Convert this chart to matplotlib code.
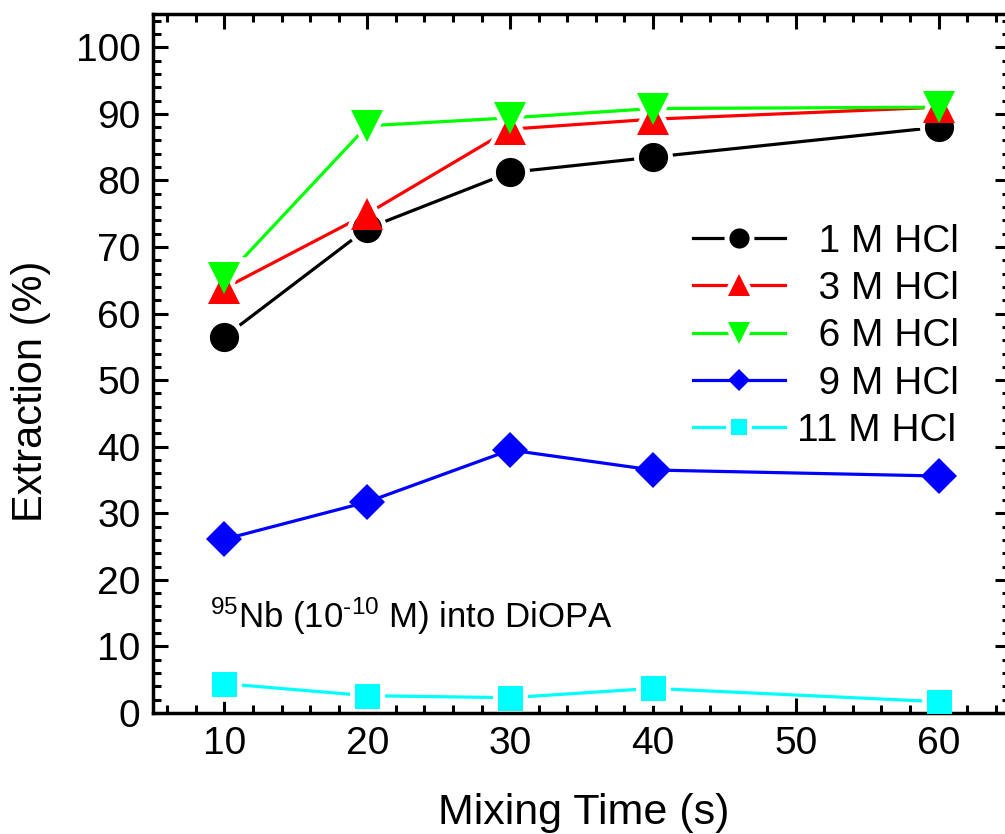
import matplotlib
matplotlib.use("Agg")
import matplotlib.pyplot as plt
from matplotlib.lines import Line2D
from matplotlib.ticker import MultipleLocator

plt.rcParams["font.family"] = ["Liberation Sans", "DejaVu Sans"]
plt.rcParams["mathtext.fontset"] = "custom"
plt.rcParams["mathtext.rm"] = "Liberation Sans"
plt.rcParams["mathtext.it"] = "Liberation Sans:italic"
plt.rcParams["mathtext.bf"] = "Liberation Sans:bold"

# mixing time (s)
times = [10, 20, 30, 40, 60]

# extraction (%) per HCl concentration
hcl_1 = [56.5, 72.8, 81.2, 83.5, 88.0]
hcl_3 = [63.8, 75.0, 87.7, 89.2, 91.0]
hcl_6 = [65.3, 88.2, 89.4, 90.8, 91.0]
hcl_9 = [26.1, 31.7, 39.5, 36.5, 35.6]
hcl_11 = [4.4, 2.6, 2.3, 3.7, 1.7]

labels = ["  1 M HCl", "  3 M HCl", "  6 M HCl", "  9 M HCl", "11 M HCl"]

series = [
    # values, colour, marker, size, legend size, gap around marker
    (hcl_1, "black", "o", 21, 14.5, True),
    (hcl_3, "red", "^", 23, 16, True),
    (hcl_6, "#00ff00", "v", 23, 16, True),
    (hcl_9, "blue", "D", 18, 11.5, False),
    (hcl_11, "cyan", "s", 18, 12, True),
]

fig = plt.figure(figsize=(10.05, 8.34), dpi=100)
ax = fig.add_axes([153 / 1005, 121 / 834, (1010 - 153) / 1005, (713 - 14) / 834])

# lines first, then white masks for the gaps, then markers on top
for vals, col, mk, ms, lms, gap in series:
    ax.plot(times, vals, "-", color=col, lw=2.3, zorder=1, solid_capstyle="round")
for vals, col, mk, ms, lms, gap in series:
    if gap:
        ax.plot(times, vals, ls="none", marker=mk, ms=ms, mfc="white",
                mec="white", mew=7, zorder=2)
for vals, col, mk, ms, lms, gap in series:
    ax.plot(times, vals, ls="none", marker=mk, ms=ms, color=col, mec=col,
            mew=0, zorder=3)

handles = []
for vals, col, mk, ms, lms, gap in series:
    line = Line2D([], [], color=col, lw=2.3)
    dot = Line2D([], [], ls="none", marker=mk, ms=lms, mfc=col, mec=col, mew=0)
    if gap:
        mask = Line2D([], [], ls="none", marker=mk, ms=lms, mfc="white",
                      mec="white", mew=7)
        handles.append((line, mask, dot))
    else:
        handles.append((line, dot))
ax.legend(handles=handles, labels=labels, loc="upper left",
          bbox_to_anchor=(0.63, 0.700), frameon=False, fontsize=28,
          handlelength=2.37, handletextpad=0.3, labelspacing=0.29,
          borderpad=0, borderaxespad=0)

ax.text(0.067, 0.122, r"$^{95}$Nb (10$^{\text{-10}}$ M) into DiOPA",
        transform=ax.transAxes, fontsize=25, ha="left", va="baseline")

ax.set_xlim(5, 65)
ax.set_ylim(0, 105)
ax.xaxis.set_major_locator(MultipleLocator(10))
ax.xaxis.set_minor_locator(MultipleLocator(2))
ax.yaxis.set_major_locator(MultipleLocator(10))
ax.yaxis.set_minor_locator(MultipleLocator(2))
ax.set_xticks([10, 20, 30, 40, 50, 60])
ax.tick_params(which="both", direction="in", top=True, right=True, width=2.2,
               labelsize=28)
ax.tick_params(which="major", length=11, pad=9)
ax.tick_params(which="minor", length=6)
for sp in ax.spines.values():
    sp.set_linewidth(2.5)

ax.set_xlabel("Mixing Time (s)", fontsize=31)
ax.set_ylabel("Extraction (%)", fontsize=30)
ax.xaxis.set_label_coords(0.502, -0.115)
ax.yaxis.set_label_coords(-0.119, 0.46)

fig.savefig("out.png", dpi=100)
